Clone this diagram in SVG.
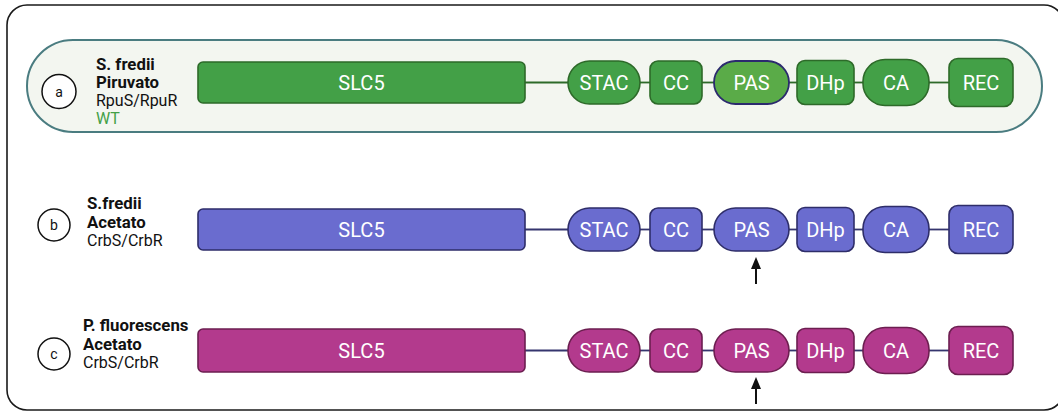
<svg xmlns="http://www.w3.org/2000/svg" width="1058" height="413" viewBox="0 0 1058 413">
<defs>
<style>
.lbl{font-family:Roboto,"Liberation Sans",Arial,sans-serif;font-size:16px;fill:#111}
.b{font-weight:bold;font-size:16.8px}
.dom{font-family:Roboto,"Liberation Sans",Arial,sans-serif;font-size:20px;fill:#fff;text-anchor:middle}
.circ{fill:#fff;stroke:#111;stroke-width:1.5}
.ctxt{font-family:Roboto,"Liberation Sans",Arial,sans-serif;font-size:14px;fill:#111;text-anchor:middle}
.g{fill:#43a047;stroke:#2d6a29;stroke-width:1.6}
.gp{fill:#5aab48;stroke:#2b2a6e;stroke-width:1.8}
.u{fill:#6a6ccf;stroke:#2e2d69;stroke-width:1.6}
.m{fill:#b33a8d;stroke:#6c1e50;stroke-width:1.6}
.cg{stroke:#2d6a29;stroke-width:1.8}
.cn{stroke:#35356e;stroke-width:1.8}
.arr{stroke:#111;stroke-width:2}
</style>
<marker id="ah" viewBox="0 0 12 10" refX="1" refY="5" markerWidth="12" markerHeight="10" markerUnits="userSpaceOnUse" orient="auto">
<path d="M0,0 L12,5 L0,10 Z" fill="#111"/>
</marker>
</defs>
<rect x="0" y="0" width="1058" height="413" fill="#fff"/>
<g id="frame">
<rect x="7" y="5" width="1057" height="405" rx="20" fill="#fff" stroke="#1a1a1a" stroke-width="1.6"/>
</g>
<g id="panel-a-bg">
<rect x="27" y="40" width="1015" height="92" rx="46" fill="#f3f6f0" stroke="#4a7c80" stroke-width="2"/>
</g>
<g id="connectors">
<line class="cg" x1="525" y1="82.5" x2="568" y2="82.5"/>
<line class="cg" x1="640" y1="82.5" x2="650" y2="82.5"/>
<line class="cg" x1="702" y1="82.5" x2="714" y2="82.5"/>
<line class="cg" x1="789" y1="82.5" x2="797" y2="82.5"/>
<line class="cg" x1="854" y1="82.5" x2="863" y2="82.5"/>
<line class="cg" x1="929" y1="82.5" x2="949" y2="82.5"/>
<line class="cn" x1="525" y1="229.5" x2="568" y2="229.5"/>
<line class="cn" x1="640" y1="229.5" x2="650" y2="229.5"/>
<line class="cn" x1="702" y1="229.5" x2="714" y2="229.5"/>
<line class="cn" x1="789" y1="229.5" x2="797" y2="229.5"/>
<line class="cn" x1="854" y1="229.5" x2="863" y2="229.5"/>
<line class="cn" x1="929" y1="229.5" x2="949" y2="229.5"/>
<line class="cn" x1="525" y1="350.5" x2="568" y2="350.5"/>
<line class="cn" x1="640" y1="350.5" x2="650" y2="350.5"/>
<line class="cn" x1="702" y1="350.5" x2="714" y2="350.5"/>
<line class="cn" x1="789" y1="350.5" x2="797" y2="350.5"/>
<line class="cn" x1="854" y1="350.5" x2="863" y2="350.5"/>
<line class="cn" x1="929" y1="350.5" x2="949" y2="350.5"/>
<line class="arr" x1="756" y1="284" x2="756" y2="268" marker-end="url(#ah)"/>
<line class="arr" x1="756" y1="404" x2="756" y2="388" marker-end="url(#ah)"/>
</g>
<g id="label-a">
<circle class="circ" cx="59" cy="91.5" r="17"/>
<text class="ctxt" x="59" y="96.5">a</text>
<text class="lbl b" x="96" y="70">S. fredii</text>
<text class="lbl b" x="96" y="88">Piruvato</text>
<text class="lbl" x="96" y="106">RpuS/RpuR</text>
<text class="lbl" x="96" y="124" style="fill:#43a047">WT</text>
</g>
<g id="row-a">
<g id="a-slc5"><rect class="g" x="198" y="62" width="327" height="41" rx="5"/><text class="dom" x="361.5" y="89.6">SLC5</text></g>
<g id="a-stac"><rect class="g" x="568" y="61" width="72" height="43" rx="21.5"/><text class="dom" x="604" y="89.6">STAC</text></g>
<g id="a-cc"><rect class="g" x="650" y="61" width="52" height="43" rx="8"/><text class="dom" x="676" y="89.6">CC</text></g>
<g id="a-pas"><rect class="gp" x="714" y="61" width="75" height="43" rx="21.5"/><text class="dom" x="751.5" y="89.6">PAS</text></g>
<g id="a-dhp"><rect class="g" x="797" y="60.5" width="57" height="44" rx="8"/><text class="dom" x="825.5" y="89.6">DHp</text></g>
<g id="a-ca"><rect class="g" x="863" y="59.5" width="66" height="46" rx="22"/><text class="dom" x="896" y="89.6">CA</text></g>
<g id="a-rec"><rect class="g" x="949" y="58.5" width="64" height="48" rx="9"/><text class="dom" x="981" y="89.6">REC</text></g>
</g>
<g id="label-b">
<circle class="circ" cx="54" cy="225" r="16"/>
<text class="ctxt" x="54" y="230">b</text>
<text class="lbl b" x="87" y="209">S.fredii</text>
<text class="lbl b" x="87" y="227.5">Acetato</text>
<text class="lbl" x="87" y="246">CrbS/CrbR</text>
</g>
<g id="row-b">
<g id="b-slc5"><rect class="u" x="198" y="209" width="327" height="41" rx="5"/><text class="dom" x="361.5" y="236.6">SLC5</text></g>
<g id="b-stac"><rect class="u" x="568" y="208" width="72" height="43" rx="21.5"/><text class="dom" x="604" y="236.6">STAC</text></g>
<g id="b-cc"><rect class="u" x="650" y="208" width="52" height="43" rx="8"/><text class="dom" x="676" y="236.6">CC</text></g>
<g id="b-pas"><rect class="u" x="714" y="208" width="75" height="43" rx="21.5"/><text class="dom" x="751.5" y="236.6">PAS</text></g>
<g id="b-dhp"><rect class="u" x="797" y="207.5" width="57" height="44" rx="8"/><text class="dom" x="825.5" y="236.6">DHp</text></g>
<g id="b-ca"><rect class="u" x="863" y="206.5" width="66" height="46" rx="22"/><text class="dom" x="896" y="236.6">CA</text></g>
<g id="b-rec"><rect class="u" x="949" y="205.5" width="64" height="48" rx="9"/><text class="dom" x="981" y="236.6">REC</text></g>
</g>
<g id="label-c">
<circle class="circ" cx="54" cy="354" r="16"/>
<text class="ctxt" x="54" y="359">c</text>
<text class="lbl b" x="83" y="331">P. fluorescens</text>
<text class="lbl b" x="83" y="349.5">Acetato</text>
<text class="lbl" x="83" y="368">CrbS/CrbR</text>
</g>
<g id="row-c">
<g id="c-slc5"><rect class="m" x="198" y="329" width="327" height="43" rx="5"/><text class="dom" x="361.5" y="357.6">SLC5</text></g>
<g id="c-stac"><rect class="m" x="568" y="329" width="72" height="43" rx="21.5"/><text class="dom" x="604" y="357.6">STAC</text></g>
<g id="c-cc"><rect class="m" x="650" y="329" width="52" height="43" rx="8"/><text class="dom" x="676" y="357.6">CC</text></g>
<g id="c-pas"><rect class="m" x="714" y="329" width="75" height="43" rx="21.5"/><text class="dom" x="751.5" y="357.6">PAS</text></g>
<g id="c-dhp"><rect class="m" x="797" y="328.5" width="57" height="44" rx="8"/><text class="dom" x="825.5" y="357.6">DHp</text></g>
<g id="c-ca"><rect class="m" x="863" y="327.5" width="66" height="46" rx="22"/><text class="dom" x="896" y="357.6">CA</text></g>
<g id="c-rec"><rect class="m" x="949" y="326.5" width="64" height="48" rx="9"/><text class="dom" x="981" y="357.6">REC</text></g>
</g>
</svg>
